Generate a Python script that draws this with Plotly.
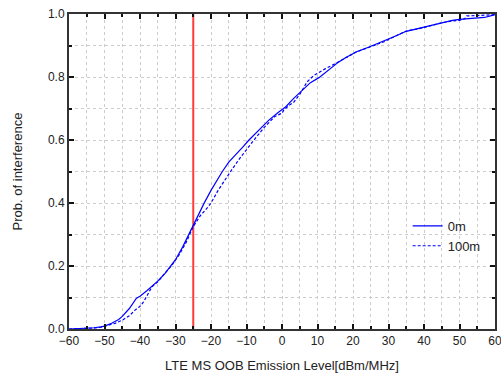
import plotly.graph_objects as go

# 0m series
x_0m = [-60, -57, -55, -53, -51, -50, -48, -46, -45, -43, -41, -40, -38, -36, -35, -33, -31, -30,
        -28, -26.5, -25, -23, -22, -20, -18, -16.8, -15, -13, -11, -9.3, -7, -5, -3.7, -1, 1, 3.3,
        5, 6, 7, 8, 10.4, 12, 14.6, 16, 18, 21, 24, 26, 29, 32, 35, 38, 40, 43, 45, 48, 50, 53,
        55, 57, 59, 60]
y_0m = [0, 0.001, 0.002, 0.004, 0.007, 0.009, 0.018, 0.03, 0.04, 0.065, 0.098, 0.104, 0.122, 0.14,
        0.152, 0.176, 0.205, 0.22, 0.26, 0.295, 0.33, 0.375, 0.398, 0.44, 0.478, 0.50, 0.53, 0.553,
        0.578, 0.60, 0.625, 0.648, 0.663, 0.688, 0.705, 0.732, 0.75, 0.762, 0.774, 0.782, 0.798,
        0.812, 0.835, 0.848, 0.862, 0.88, 0.893, 0.902, 0.915, 0.93, 0.945, 0.953, 0.96, 0.968,
        0.974, 0.98, 0.983, 0.985, 0.987, 0.989, 0.995, 0.998]

# 100m series
x_100m = [-60, -56, -53, -51, -49, -47, -45, -43, -41.4, -40, -39, -37.5, -36.7, -35, -33, -31, -29,
          -27, -25, -23, -21, -20, -18, -16, -14.5, -12, -10, -7.9, -5, -2, 0, 0.5, 2, 3.3, 5, 7.1,
          9, 10.4, 12, 14.6, 17, 21, 24, 26, 29, 32, 35, 38, 40, 43, 45, 48, 50, 51.5, 52, 55, 58, 60]
y_100m = [0, 0.001, 0.003, 0.006, 0.012, 0.018, 0.028, 0.042, 0.06, 0.072, 0.086, 0.115, 0.133, 0.15,
          0.175, 0.203, 0.235, 0.275, 0.325, 0.36, 0.385, 0.40, 0.44, 0.475, 0.50, 0.54, 0.57, 0.60,
          0.64, 0.675, 0.685, 0.695, 0.71, 0.72, 0.745, 0.785, 0.805, 0.815, 0.825, 0.84, 0.855,
          0.88, 0.892, 0.90, 0.913, 0.93, 0.946, 0.952, 0.958, 0.967, 0.972, 0.978, 0.98, 0.985,
          0.994, 0.995, 0.996, 0.998]

# threshold line
threshold_x = -25
threshold_y = [0, 1]

x_ticks = [-60, -50, -40, -30, -20, -10, 0, 10, 20, 30, 40, 50, 60]
y_ticks = [0.0, 0.2, 0.4, 0.6, 0.8, 1.0]

FONT = "Liberation Sans, Arial"

fig = go.Figure()
fig.add_trace(go.Scatter(x=[threshold_x, threshold_x], y=threshold_y, mode="lines",
                         line=dict(color="#ff3b3b", width=2), showlegend=False, hoverinfo="skip"))
fig.add_trace(go.Scatter(x=x_0m, y=y_0m, mode="lines", name="0m",
                         line=dict(color="#0000ff", width=1.2)))
fig.add_trace(go.Scatter(x=x_100m, y=y_100m, mode="lines", name="100m",
                         line=dict(color="#0000ff", width=1.2, dash="3px,2px")))

axis_common = dict(
    showline=True, linecolor="#333333", linewidth=2, mirror="ticks",
    ticks="inside", ticklen=5, tickwidth=1.5, tickcolor="#111111",
    showgrid=True, gridcolor="#cccccc", gridwidth=1, griddash="dot",
    zeroline=False,
    tickfont=dict(family=FONT, size=12, color="#222222"),
)

fig.update_xaxes(**axis_common, range=[-60, 60], tickvals=x_ticks, ticklabeloverflow="allow",
                 minor=dict(dtick=5, ticks="inside", ticklen=3, tickcolor="#111111",
                            showgrid=True, gridcolor="#cccccc", griddash="dot"),
                 title=dict(text="LTE MS OOB Emission Level[dBm/MHz]",
                            font=dict(family=FONT, size=13, color="#222222"),
                            standoff=13))
fig.update_yaxes(**axis_common, range=[0, 1], tickvals=y_ticks, tickformat=".1f",
                 minor=dict(dtick=0.1, ticks="inside", ticklen=3, tickcolor="#111111",
                            showgrid=True, gridcolor="#cccccc", griddash="dot"),
                 title=dict(text="Prob. of interference",
                            font=dict(family=FONT, size=13, color="#222222"),
                            standoff=22))

fig.update_layout(
    width=501, height=374,
    margin=dict(l=69, r=6, t=14, b=45, autoexpand=False),
    plot_bgcolor="white", paper_bgcolor="white",
    showlegend=True,
    legend=dict(x=0.795, y=0.375, xanchor="left", yanchor="top",
                bgcolor="rgba(0,0,0,0)", borderwidth=0,
                font=dict(family=FONT, size=13, color="#222222"),
                tracegroupgap=0, itemwidth=30),
)

fig.write_html("out.html", config={"displayModeBar": False},
               post_script="document.body.style.margin='0';document.body.style.overflow='hidden';")
